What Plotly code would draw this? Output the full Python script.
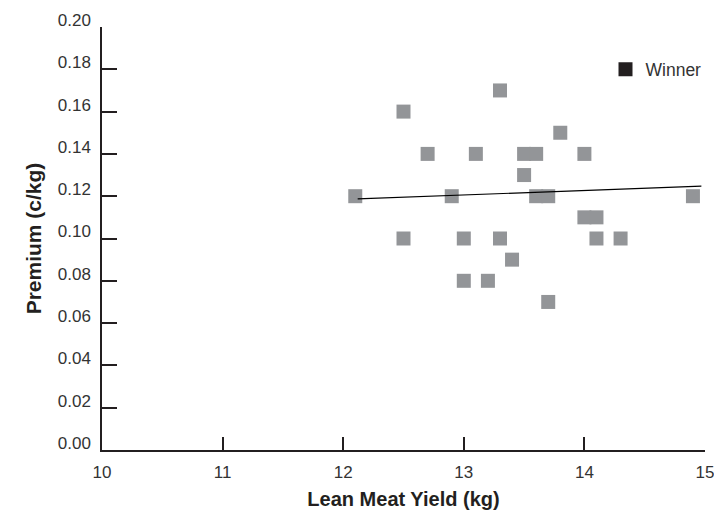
import plotly.graph_objects as go

# Data
yield_kg = [12.1, 12.5, 12.5, 12.7, 12.9, 13.0, 13.0, 13.1, 13.2, 13.3, 13.3, 13.4,
            13.5, 13.5, 13.6, 13.6, 13.7, 13.7, 13.8, 14.0, 14.0, 14.1, 14.1, 14.3, 14.9]
premium = [0.12, 0.16, 0.10, 0.14, 0.12, 0.10, 0.08, 0.14, 0.08, 0.17, 0.10, 0.09,
           0.14, 0.13, 0.14, 0.12, 0.12, 0.07, 0.15, 0.14, 0.11, 0.11, 0.10, 0.10, 0.12]
trend_x = [12.12, 14.97]
trend_y = [0.1187, 0.1248]
x_ticks = [10, 11, 12, 13, 14, 15]
y_ticks = [0.00, 0.02, 0.04, 0.06, 0.08, 0.10, 0.12, 0.14, 0.16, 0.18, 0.20]

INK = "#231f20"
GREY = "#939598"
FONT = "Liberation Sans, Arial, Helvetica, sans-serif"

fig = go.Figure()
fig.add_trace(go.Scatter(
    x=yield_kg, y=premium, mode="markers",
    marker=dict(symbol="square", size=14, color=GREY, line=dict(width=0)),
    showlegend=False, name="Winner"))
fig.add_trace(go.Scatter(
    x=trend_x, y=trend_y, mode="lines",
    line=dict(color="black", width=1.2), showlegend=False))
fig.add_trace(go.Scatter(
    x=[None], y=[None], mode="markers", name="Winner",
    marker=dict(symbol="square", size=14, color=INK), showlegend=True))

fig.update_layout(
    width=722, height=513,
    margin=dict(l=94, r=25, t=19, b=71),
    paper_bgcolor="white", plot_bgcolor="white",
    font=dict(family=FONT, size=17, color=INK),
    legend=dict(x=0.835, y=0.9, xanchor="left", yanchor="middle",
                bgcolor="rgba(0,0,0,0)", font=dict(size=17.5, color="#333333"),
                itemwidth=30),
    xaxis=dict(
        range=[10, 15], tickvals=x_ticks, ticktext=[str(v) for v in x_ticks],
        showgrid=False, zeroline=False, showline=True, linecolor=INK, linewidth=1.5,
        ticks="inside", ticklen=13, tickwidth=1.5, tickcolor=INK,
        tickfont=dict(size=17, color="#333333"), automargin=False,
        ticklabelstandoff=6,
        title=dict(text="<b>Lean Meat Yield (kg)</b>", font=dict(size=20, color=INK), standoff=11),
    ),
    yaxis=dict(
        range=[0, 0.2], tickvals=y_ticks, ticktext=[f"{v:.2f}" for v in y_ticks],
        showgrid=False, zeroline=False, showline=True, linecolor=INK, linewidth=1.5,
        ticks="inside", ticklen=15, tickwidth=1.5, tickcolor=INK,
        tickfont=dict(size=17, color="#333333"), automargin=False,
        ticklabelshift=-7, ticklabelstandoff=6,
        title=dict(text="<b>Premium (c/kg)</b>", font=dict(size=21, color=INK), standoff=10),
    ),
)

fig.write_html("out.html")
